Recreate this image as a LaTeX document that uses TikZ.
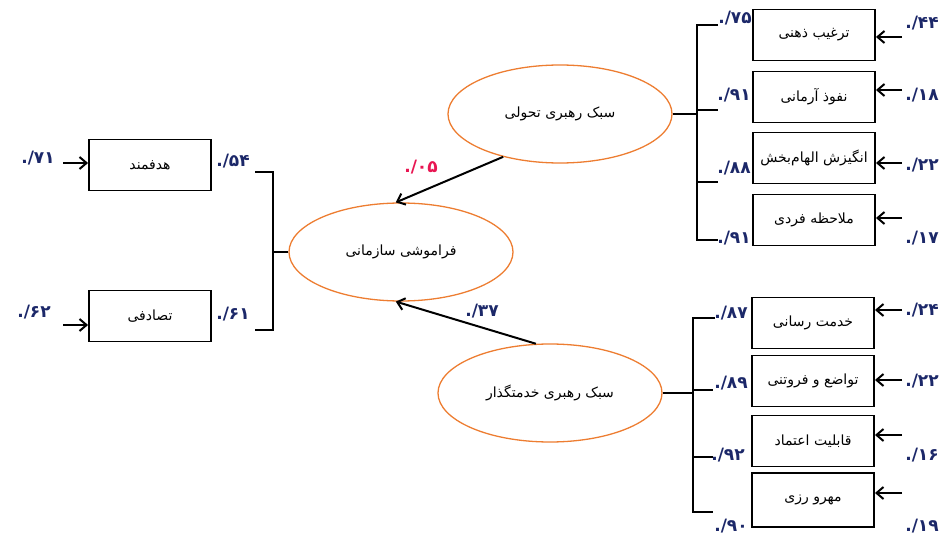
\documentclass[tikz,border=0pt]{standalone}
\usepackage{fontspec}
\setmainfont{DejaVu Sans}
\newfontfamily\fa[Script=Arabic]{DejaVu Sans}
\TeXXeTstate=1
\usetikzlibrary{arrows.meta,shapes.geometric,positioning}
\definecolor{ovalline}{RGB}{237,125,49}
\definecolor{loadtext}{RGB}{28,40,105}
\definecolor{pathred}{RGB}{232,22,82}
\newcommand{\loadval}[1]{./{\fa #1}}

\begin{document}
\begin{tikzpicture}[
    x=1pt, y=-1pt,
    item/.style={draw, line width=1.9pt, minimum width=122pt, minimum height=51pt, font=\fa\fontsize{14}{16}\selectfont},
    latent/.style={draw=ovalline, line width=1.3pt, ellipse, minimum width=224pt, minimum height=98pt, font=\fa\fontsize{14}{16}\selectfont},
    load/.style={font=\bfseries\fontsize{17}{19}\selectfont, text=loadtext, inner sep=1pt},
    bracket/.style={line width=1.9pt},
    arrow/.style={-{Straight Barb[length=7pt,width=12pt,line width=2pt]}, line width=2pt}
]
    % Frame
    \useasboundingbox (0,0) rectangle (942,545);

    % Latent variables
    \node[latent] (tahavoli) at (560,114) {\beginR سبک رهبری تحولی\endR};
    \node[latent] (faramooshi) at (401,252) {\beginR فراموشی سازمانی\endR};
    \node[latent] (khedmat) at (550,393) {\beginR سبک رهبری خدمتگذار\endR};

    % Paths between latent variables
    \draw[arrow] (tahavoli.217) -- (faramooshi.96);
    \node[load, text=pathred] (p1) at (421,167) {\loadval{۰۵}};
    \draw[arrow] (khedmat.106) -- (faramooshi.264);
    \node[load] (p2) at (482,311) {\loadval{۳۷}};

    % Left indicators
    \node[item] (hadafmand) at (150,165) {\beginR هدفمند\endR};
    \node[item] (tasadofi) at (150,316) {\beginR تصادفی\endR};
    \coordinate (lt) at (273,172);
    \coordinate (lb) at (273,330);
    \draw[bracket] (255,172) -- (lt) -- (lb) -- (255,330);
    \draw[bracket] (faramooshi.west) -- (faramooshi.west -| lt);
    \node[load] (l1) at (233,161) {\loadval{۵۴}};
    \node[load] (l2) at (233,314) {\loadval{۶۱}};
    \coordinate (e1) at (63,163);
    \coordinate (e2) at (63,325);
    \draw[arrow] (e1) -- (e1 -| hadafmand.west);
    \draw[arrow] (e2) -- (e2 -| tasadofi.west);
    \node[load] (r1) at (38,158) {\loadval{۷۱}};
    \node[load] (r2) at (34,312) {\loadval{۶۲}};

    % Top right indicators
    \node[item] (targhib) at (814,35) {\beginR ترغیب ذهنی\endR};
    \node[item] (nofooz) at (814,97) {\beginR نفوذ آرمانی\endR};
    \node[item] (angizesh) at (814,158) {\beginR انگیزش الهام‌بخش\endR};
    \node[item] (molahezeh) at (814,220) {\beginR ملاحظه فردی\endR};
    \coordinate (tt) at (697,25);
    \coordinate (tb) at (697,240);
    \draw[bracket] (718,25) -- (tt) -- (tb) -- (718,240);
    \draw[bracket] (697,110) -- (718,110);
    \draw[bracket] (697,182) -- (718,182);
    \draw[bracket] (tahavoli.east) -- (tahavoli.east -| tt);
    \node[load] (l3) at (735,18) {\loadval{۷۵}};
    \node[load] (l4) at (734,95) {\loadval{۹۱}};
    \node[load] (l5) at (734,168) {\loadval{۸۸}};
    \node[load] (l6) at (734,238) {\loadval{۹۱}};
    \coordinate (e3) at (902,37);
    \coordinate (e4) at (902,90);
    \coordinate (e5) at (902,163);
    \coordinate (e6) at (902,218);
    \draw[arrow] (e3) -- (e3 -| targhib.east);
    \draw[arrow] (e4) -- (e4 -| nofooz.east);
    \draw[arrow] (e5) -- (e5 -| angizesh.east);
    \draw[arrow] (e6) -- (e6 -| molahezeh.east);
    \node[load] (r3) at (922,23) {\loadval{۴۴}};
    \node[load] (r4) at (922,95) {\loadval{۱۸}};
    \node[load] (r5) at (922,165) {\loadval{۲۲}};
    \node[load] (r6) at (922,238) {\loadval{۱۷}};

    % Bottom right indicators
    \node[item] (khedmatresani) at (813,323) {\beginR خدمت رسانی\endR};
    \node[item] (tavazo) at (813,381) {\beginR تواضع و فروتنی\endR};
    \node[item] (etemad) at (813,441) {\beginR قابلیت اعتماد\endR};
    \node[item, minimum height=54pt] (mehr) at (813,500) {\beginR مهرو رزی\endR};
    \coordinate (bt) at (693,318);
    \coordinate (bb) at (693,512);
    \draw[bracket] (715,318) -- (bt) -- (bb) -- (713,512);
    \draw[bracket] (693,390) -- (713,390);
    \draw[bracket] (693,457) -- (713,457);
    \draw[bracket] (khedmat.east) -- (khedmat.east -| bt);
    \node[load] (l7) at (731,313) {\loadval{۸۷}};
    \node[load] (l8) at (731,383) {\loadval{۸۹}};
    \node[load] (l9) at (728,455) {\loadval{۹۲}};
    \node[load] (l10) at (731,526) {\loadval{۹۰}};
    \coordinate (e7) at (902,310);
    \coordinate (e8) at (902,380);
    \coordinate (e9) at (902,435);
    \coordinate (e10) at (902,493);
    \draw[arrow] (e7) -- (e7 -| khedmatresani.east);
    \draw[arrow] (e8) -- (e8 -| tavazo.east);
    \draw[arrow] (e9) -- (e9 -| etemad.east);
    \draw[arrow] (e10) -- (e10 -| mehr.east);
    \node[load] (r7) at (922,310) {\loadval{۲۴}};
    \node[load] (r8) at (922,381) {\loadval{۲۲}};
    \node[load] (r9) at (922,455) {\loadval{۱۶}};
    \node[load] (r10) at (922,526) {\loadval{۱۹}};
\end{tikzpicture}
\end{document}
